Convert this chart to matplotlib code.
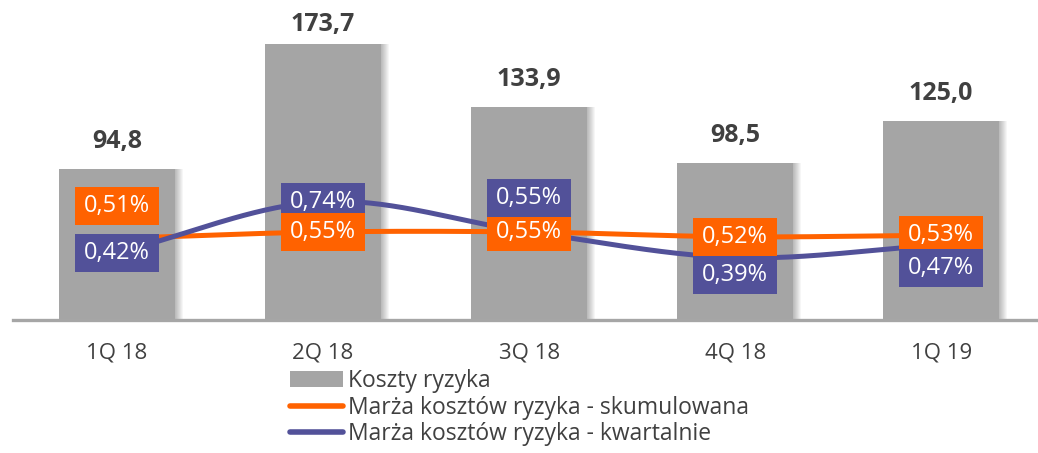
import numpy as np
import matplotlib.pyplot as plt
from matplotlib.patches import Rectangle, Patch
from matplotlib.lines import Line2D
from matplotlib.transforms import IdentityTransform

# --- dane ---
kwartaly = ["1Q 18", "2Q 18", "3Q 18", "4Q 18", "1Q 19"]
koszty_ryzyka = [94.8, 173.7, 133.9, 98.5, 125.0]
marza_skumulowana = [0.51, 0.55, 0.55, 0.52, 0.53]
marza_kwartalnie = [0.42, 0.74, 0.55, 0.39, 0.47]

GRAY = "#A5A5A5"
ORANGE = "#FF6200"
PURPLE = "#525199"
TXT = "#404040"

plt.rcParams['font.family'] = ['Open Sans', 'DejaVu Sans']


def fmt(v, dec):
    return f"{v:.{dec}f}".replace(".", ",")


def smooth(xs, ys, n=40):
    # gładka krzywa przez punkty (Catmull-Rom), jak "wygładzona linia" w Excelu
    P = np.column_stack([xs, ys]).astype(float)
    P = np.vstack([P[0] - (P[1] - P[0]), P, P[-1] + (P[-1] - P[-2])])
    out = []
    t = np.linspace(0, 1, n)[:, None]
    for i in range(1, len(P) - 2):
        p0, p1, p2, p3 = P[i - 1], P[i], P[i + 1], P[i + 2]
        seg = 0.5 * ((2 * p1) + (-p0 + p2) * t + (2 * p0 - 5 * p1 + 4 * p2 - p3) * t ** 2
                     + (-p0 + 3 * p1 - 3 * p2 + p3) * t ** 3)
        out.append(seg)
    out = np.vstack(out)
    return out[:, 0], out[:, 1]


fig = plt.figure(figsize=(10.38, 4.53), dpi=100)
ax = fig.add_axes([13 / 1038, 133 / 453, 1 - 13 / 1038, 320 / 453])
x = np.arange(len(kwartaly))

# cień słupków
for k in range(8):
    ax.bar(x + 0.005 * (k + 1), koszty_ryzyka, width=0.56, color="#000000", alpha=0.035,
           zorder=1, linewidth=0)
ax.bar(x, koszty_ryzyka, width=0.56, color=GRAY, zorder=2, linewidth=0)
ax.set_xlim(-0.505, 4.47)
ax.set_ylim(0, 201.4)

for s in ["top", "right", "left"]:
    ax.spines[s].set_visible(False)
ax.spines["bottom"].set_color("#A6A6A6")
ax.spines["bottom"].set_linewidth(2.4)
ax.spines["bottom"].set_zorder(3)
ax.set_yticks([])
ax.set_xticks(x)
ax.set_xticklabels(kwartaly, fontsize=16, color=TXT)
ax.tick_params(axis="x", length=0, pad=16)

# wartości nad słupkami (najwyższa etykieta dociśnięta do górnej krawędzi)
for i, v in enumerate(koszty_ryzyka):
    bx, by = ax.transData.transform((i, v))
    ty = min(by + 28, fig.bbox.height - 25)
    fig.text(bx, ty, fmt(v, 1), transform=IdentityTransform(),
             ha="center", va="center", fontsize=18, fontweight="bold", color=TXT)

# linie na osi pomocniczej
ax2 = ax.twinx()
ax2.set_ylim(0, 2.0)
ax2.axis("off")
sx, sy = smooth(x, marza_skumulowana)
ax2.plot(sx, sy, color=ORANGE, lw=3.6, solid_capstyle="butt", zorder=3)
kx, ky = smooth(x, marza_kwartalnie)
ax2.plot(kx, ky, color=PURPLE, lw=3.6, solid_capstyle="butt", zorder=3)

# etykiety w ramkach (przesunięcie w pikselach, + w górę)
off_orange = [32, 0, 0, 0, 0]
off_purple = [0, 0, 34, -17, -23]
orange_top = [False, True, False, False, False]
BW, BH = 84, 38
for i in range(len(kwartaly)):
    for vals, offs, col, top in [(marza_skumulowana, off_orange, ORANGE, orange_top[i]),
                                 (marza_kwartalnie, off_purple, PURPLE, not orange_top[i])]:
        cx, cy = ax2.transData.transform((i, vals[i]))
        cy += offs[i]
        z = 6 if top else 5
        fig.add_artist(Rectangle((cx - BW / 2, cy - BH / 2), BW, BH, facecolor=col,
                                 edgecolor="none", transform=IdentityTransform(), zorder=z))
        fig.text(cx, cy, fmt(vals[i], 2) + "%", transform=IdentityTransform(),
                 ha="center", va="center", fontsize=17, color="white", zorder=z + 0.5)

handles = [Patch(facecolor=GRAY, edgecolor="none"),
           Line2D([], [], color=ORANGE, lw=4, solid_capstyle="round"),
           Line2D([], [], color=PURPLE, lw=4, solid_capstyle="round")]
labels = ["Koszty ryzyka", "Marża kosztów ryzyka - skumulowana",
          "Marża kosztów ryzyka - kwartalnie"]
leg = fig.legend(handles, labels, loc="upper left", bbox_to_anchor=(290 / 1038, 1 - 369 / 453),
                 frameon=False, fontsize=16.5, handlelength=2.3, handletextpad=0.25,
                 labelspacing=0.12, borderpad=0, borderaxespad=0)
for t in leg.get_texts():
    t.set_color(TXT)

fig.savefig("out.png", dpi=100)
